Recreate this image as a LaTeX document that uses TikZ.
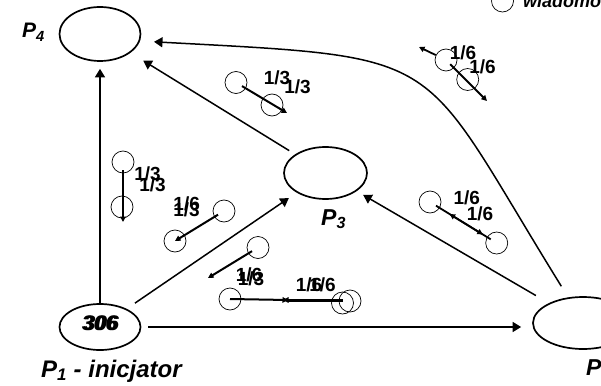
\documentclass[tikz,border=0pt]{standalone}
\usepackage{fontspec}
\setmainfont{Liberation Sans}
\usetikzlibrary{shapes.geometric,arrows.meta}
\begin{document}
\begin{tikzpicture}[x=1pt,y=-1pt,
  proc/.style={draw, ellipse, line width=1.7pt, inner sep=0pt},
  msg/.style={draw, circle, line width=0.7pt, minimum size=22pt, inner sep=0pt},
  conn/.style={line width=1.5pt, -{Triangle[length=8.5pt,width=10pt]}},
  marr/.style={line width=2pt, -{Triangle[length=5.5pt,width=5.5pt]}},
  frac/.style={font=\bfseries\fontsize{19}{19}\selectfont, inner sep=0pt},
  plabel/.style={font=\bfseries\itshape\fontsize{23}{23}\selectfont, inner sep=0pt, anchor=base west}]
\useasboundingbox (0,0) rectangle (601,385);
\clip (0,0) rectangle (601,385);

% processes
\node[proc, minimum width=81pt, minimum height=54pt] (p4) at (100,34) {};
\node[proc, minimum width=83pt, minimum height=52pt] (p3) at (325.5,173) {};
\node[proc, minimum width=81pt, minimum height=46pt] (p1) at (100,327) {};
\node[proc, minimum width=100pt, minimum height=52pt] (p2) at (583,323) {};

\node[font=\bfseries\itshape\fontsize{21}{21}\selectfont, inner sep=0pt] (n306a) at (99.5,323.5) {306};
\node[font=\bfseries\itshape\fontsize{21}{21}\selectfont, inner sep=0pt] (n306b) at (101.5,323.5) {306};

\node[plabel, font=\bfseries\itshape\fontsize{21}{21}\selectfont] (l4) at (22,38) {P\textsubscript{4}};
\node[plabel] (l3) at (321,225) {P\textsubscript{3}};
\node[plabel, font=\bfseries\itshape\fontsize{24}{24}\selectfont] (l1) at (41,377) {P\textsubscript{1} - inicjator};
\node[plabel] (l2) at (586,375) {P\textsubscript{2}};

% legend
\node[msg] (leg) at (502.5,1) {};
\node[anchor=base west, font=\bfseries\itshape\fontsize{18}{18}\selectfont, inner sep=0pt] (legt) at (523,7.5) {wiadomość};

% channels
\draw[conn, shorten >=7pt] (p1) -- (p4);
\draw[conn, shorten <=7pt, shorten >=11pt] (p1.east) -- (p1.east -| p2.west);
\draw[conn, shorten <=10pt, shorten >=9.5pt] (p1) -- (p3);
\draw[conn, shorten <=7pt, shorten >=15pt] (p3) -- (p4);
\draw[conn, shorten <=15pt, shorten >=7.5pt] (p2) -- (p3);
\draw[conn, shorten <=13pt, shorten >=14pt] (p2.120) .. controls (415,50) and (455,58) .. (p4.-10);

% messages
\node[msg] (m1a) at (123,162) {};
\node[msg] (m1b) at (122,207) {};
\coordinate (m1e) at (123,222);
\draw[marr, shorten <=8pt] (m1a.center) -- (m1e);
\node[frac] (f1a) at (147.5,174) {1/3};
\node[frac] (f1b) at (152.5,185) {1/3};

\node[msg] (m2a) at (224,211) {};
\node[msg] (m2b) at (175,241) {};
\draw[marr, shorten <=7pt] (m2a.center) -- (m2b.center);
\node[frac] (f2a) at (186.7,203.5) {1/6};
\node[frac] (f2b) at (186.5,210) {1/3};

\node[msg] (m3a) at (258,247.5) {};
\coordinate (m3e) at (208,278);
\draw[marr, shorten <=7pt] (m3a.center) -- (m3e);
\node[frac] (f3a) at (249,275) {1/6};
\node[frac] (f3b) at (251,279) {1/3};

\node[msg] (m4a) at (230,299) {};
\coordinate (m4e) at (288,300);
\draw[marr] (m4a.center) -- (m4e);
\node[msg] (m4b) at (342.5,303) {};
\node[msg] (m4c) at (350,301) {};
\coordinate (m4f) at (283,300);
\draw[marr, line width=3pt] (m4b.center |- m4f) -- (m4f);
\node[frac] (f4a) at (309,285) {1/6};
\node[frac] (f4b) at (322.5,285) {1/6};

\node[msg] (m5a) at (236,82.5) {};
\node[msg] (m5b) at (272,105) {};
\coordinate (m5e) at (287,113);
\draw[marr, shorten <=7pt] (m5a.center) -- (m5e);
\node[frac] (f5a) at (277,78) {1/3};
\node[frac] (f5b) at (297.5,86.7) {1/3};

\node[msg] (m6a) at (446,60) {};
\node[msg] (m6b) at (467.7,79.5) {};
\coordinate (m6e) at (487,101);
\coordinate (m6f) at (419,47);
\draw[marr, line width=1.8pt, shorten <=6pt] (m6a.center) -- (m6e);
\draw[marr, line width=1.8pt] (m6a) -- (m6f);
\node[frac] (f6a) at (463,52.5) {1/6};
\node[frac] (f6b) at (482.5,67) {1/6};

\node[msg] (m7a) at (430,202) {};
\node[msg] (m7b) at (496.7,243) {};
\draw[marr, line width=1.8pt, shorten <=7pt, shorten >=5pt] (m7a.center) -- (m7b);
\draw[marr, line width=1.8pt, shorten <=7pt, shorten >=23pt] (m7b.center) -- (m7a.center);
\node[frac] (f7a) at (466.7,198) {1/6};
\node[frac] (f7b) at (480,214) {1/6};
\end{tikzpicture}
\end{document}
